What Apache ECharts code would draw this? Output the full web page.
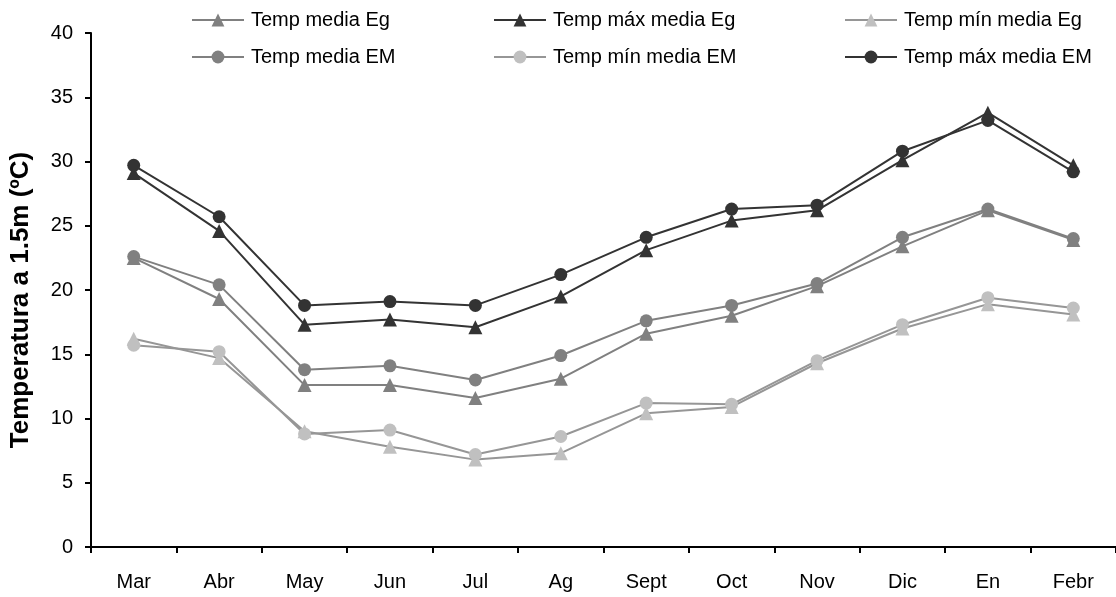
<!DOCTYPE html>
<html>
<head>
<meta charset="utf-8">
<script src="https://cdn.jsdelivr.net/npm/echarts@6/dist/echarts.min.js"></script>
<style>
html,body{margin:0;padding:0;background:#fff;}
#chart{width:1116px;height:597px;}
</style>
</head>
<body>
<div id="chart"></div>
<script>
const months = ['Mar','Abr','May','Jun','Jul','Ag','Sept','Oct','Nov','Dic','En','Febr'];
const yTicks = [0,5,10,15,20,25,30,35,40];

const mediaEg  = [22.5, 19.3, 12.6, 12.6, 11.6, 13.1, 16.6, 18.0, 20.3, 23.4, 26.2, 23.9];
const maxEg    = [29.1, 24.6, 17.3, 17.7, 17.1, 19.5, 23.1, 25.4, 26.2, 30.1, 33.8, 29.7];
const minEg    = [16.2, 14.7,  9.0,  7.8,  6.8,  7.3, 10.4, 10.9, 14.3, 17.0, 18.9, 18.1];
const mediaEM  = [22.6, 20.4, 13.8, 14.1, 13.0, 14.9, 17.6, 18.8, 20.5, 24.1, 26.3, 24.0];
const minEM    = [15.7, 15.2,  8.8,  9.1,  7.2,  8.6, 11.2, 11.1, 14.5, 17.3, 19.4, 18.6];
const maxEM    = [29.7, 25.7, 18.8, 19.1, 18.8, 21.2, 24.1, 26.3, 26.6, 30.8, 33.2, 29.2];

const names = ['Temp media Eg','Temp máx media Eg','Temp mín media Eg','Temp media EM','Temp mín media EM','Temp máx media EM'];
const dataSets = [mediaEg, maxEg, minEg, mediaEM, minEM, maxEM];
const symbols = ['triangle','triangle','triangle','circle','circle','circle'];
const lineColors = ['#808080','#333333','#969696','#808080','#969696','#333333'];
const markColors = ['#808080','#333333','#c0c0c0','#808080','#c0c0c0','#333333'];
const legendPos = [[191,10],[493,10],[844,10],[191,47],[493,47],[844,47]];

const FONT = 'Liberation Sans, Arial, sans-serif';

const series = names.map((n,i)=>({
  name: n,
  type: 'line',
  data: dataSets[i],
  symbol: symbols[i],
  symbolSize: symbols[i]==='triangle' ? 14 : 13,
  showAllSymbol: true,
  lineStyle: {color: lineColors[i], width: 2},
  itemStyle: {color: markColors[i], borderWidth: 0},
  emphasis: {disabled: true},
  animation: false
}));

const legends = names.map((n,i)=>({
  data: [n],
  left: legendPos[i][0],
  top: legendPos[i][1],
  itemWidth: 52,
  itemHeight: 16,
  itemGap: 0,
  padding: 0,
  textStyle: {fontSize: 20, lineHeight: 20, color: '#000', fontFamily: FONT, padding:[0,0,0,2]},
  selectedMode: false
}));

const chart = echarts.init(document.getElementById('chart'));
chart.setOption({
  backgroundColor: '#fff',
  animation: false,
  legend: legends,
  grid: {left: 91, right: -3, top: 33, bottom: 50, containLabel: false},
  xAxis: {
    type: 'category',
    data: months,
    boundaryGap: true,
    axisLine: {lineStyle: {color: '#000', width: 2}},
    axisTick: {show: true, inside: false, length: 6, lineStyle: {color: '#000', width: 2}},
    axisLabel: {fontSize: 20, color: '#000', fontFamily: FONT, margin: 25},
    splitLine: {show: false}
  },
  yAxis: {
    type: 'value',
    min: yTicks[0],
    max: yTicks[yTicks.length-1],
    interval: yTicks[1]-yTicks[0],
    name: 'Temperatura a 1.5m (ºC)',
    nameLocation: 'middle',
    nameGap: 57,
    nameRotate: 90,
    nameTextStyle: {fontSize: 26, fontWeight: 'bold', color: '#000', fontFamily: FONT, padding: [0, 20, 0, 0]},
    axisLine: {show: true, lineStyle: {color: '#000', width: 2}},
    axisTick: {show: true, inside: false, length: 6, lineStyle: {color: '#000', width: 2}},
    axisLabel: {fontSize: 20, color: '#000', fontFamily: FONT, margin: 18},
    splitLine: {show: false}
  },
  series: series
});
</script>
</body>
</html>
